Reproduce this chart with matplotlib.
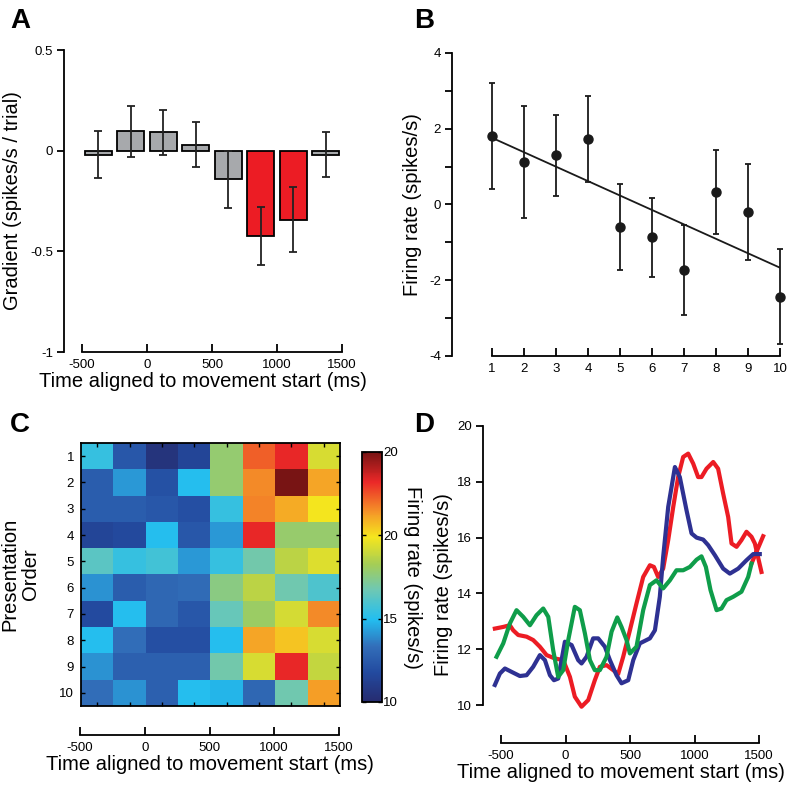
import numpy as np
import matplotlib
matplotlib.use("Agg")
import matplotlib.pyplot as plt
from matplotlib.colors import LinearSegmentedColormap

plt.rcParams['font.family'] = ['Liberation Sans', 'DejaVu Sans']
plt.rcParams['axes.unicode_minus'] = False

# ---- panel A: gradient per time bin
bin_centres = [-375, -125, 125, 375, 625, 875, 1125, 1375]
gradient = [-0.02, 0.096, 0.091, 0.03, -0.143, -0.426, -0.343, -0.02]
gradient_err = [0.118, 0.125, 0.113, 0.112, 0.142, 0.144, 0.162, 0.113]
significant = [False, False, False, False, False, True, True, False]

# ---- panel B: firing rate vs presentation order
order = [1, 2, 3, 4, 5, 6, 7, 8, 9, 10]
rate_b = [1.81, 1.12, 1.30, 1.73, -0.60, -0.87, -1.73, 0.32, -0.19, -2.43]
rate_b_err = [1.40, 1.47, 1.07, 1.14, 1.14, 1.05, 1.18, 1.11, 1.27, 1.26]

# ---- panel C: firing rate heatmap (rows = presentation order, cols = time bins)
heat = np.array([
    [15.4, 12.4, 10.5, 11.5, 17.8, 22.3, 23.2, 19.3],
    [12.6, 14.2, 12.1, 15.0, 17.8, 21.6, 25.0, 21.1],
    [12.6, 12.6, 12.4, 12.0, 15.4, 21.7, 21.0, 19.9],
    [11.5, 11.7, 15.0, 12.4, 14.2, 23.2, 17.9, 17.9],
    [16.3, 15.4, 15.7, 14.2, 15.4, 16.9, 18.7, 19.4],
    [14.1, 12.6, 13.0, 13.2, 17.5, 18.7, 16.8, 16.0],
    [11.8, 15.0, 13.0, 12.4, 16.6, 18.0, 19.2, 21.6],
    [15.0, 13.3, 12.0, 12.0, 15.0, 21.1, 20.5, 19.3],
    [14.1, 12.7, 12.7, 12.7, 16.9, 19.3, 23.2, 18.9],
    [13.3, 14.1, 12.7, 15.0, 14.8, 13.0, 16.8, 21.2],
])
cbar_ticks = [10, 15, 20, 25]
cbar_labels = ['10', '15', '20', '20']

# ---- panel D: smoothed firing rate traces
t_blue = [-548, -509, -470, -419, -354, -302, -251, -199, -160, -121, -90, -57, -5, 47, 98, 124,
          163, 214, 253, 305, 344, 395, 434, 486, 525, 576, 654, 693, 731, 757, 796, 848, 886,
          938, 977, 1016, 1067, 1106, 1158, 1222, 1274, 1339, 1403, 1455, 1506]
v_blue = [10.72, 11.13, 11.31, 11.19, 11.04, 11.07, 11.37, 11.79, 11.61, 11.07, 10.89, 10.95,
          12.27, 12.15, 11.61, 11.49, 11.73, 12.39, 12.39, 12.09, 11.61, 11.07, 10.78, 10.89,
          11.61, 12.21, 12.39, 12.68, 13.88, 15.31, 17.10, 18.53, 18.17, 16.98, 16.15, 16.00,
          15.93, 15.73, 15.37, 14.89, 14.71, 14.89, 15.19, 15.41, 15.41]

t_red = [-548, -483, -432, -406, -367, -302, -251, -199, -147, -83, -18, 34, 72, 124, 176, 227,
         266, 318, 370, 408, 447, 499, 550, 602, 654, 685, 718, 757, 796, 835, 873, 912, 951,
         990, 1028, 1054, 1093, 1145, 1183, 1222, 1261, 1287, 1326, 1364, 1403, 1442, 1468,
         1519, np.nan, 1442, 1532]
v_red = [12.74, 12.80, 12.86, 12.68, 12.51, 12.45, 12.33, 12.09, 11.79, 11.67, 11.61, 11.01,
         10.30, 9.94, 10.18, 10.89, 11.37, 11.43, 11.25, 11.11, 11.73, 12.68, 13.64, 14.59,
         15.01, 14.95, 14.59, 14.89, 15.91, 17.10, 18.17, 18.89, 19.01, 18.65, 18.17, 18.17,
         18.47, 18.71, 18.47, 17.58, 16.74, 15.79, 15.67, 15.91, 16.21, 16.03, 15.79, 14.77,
         np.nan, 15.07, 16.05]

t_green = [-535, -483, -432, -380, -328, -276, -225, -173, -134, -96, -57, -18, 21, 72, 111, 150,
           189, 227, 266, 318, 357, 401, 434, 473, 499, 550, 602, 654, 705, 757, 809, 860, 912,
           964, 1016, 1054, 1088, 1124, 1171, 1209, 1248, 1300, 1364, 1416, 1442]
v_green = [11.73, 12.21, 12.92, 13.40, 13.16, 12.86, 13.22, 13.46, 13.16, 11.97, 11.01, 11.25,
           12.33, 13.52, 13.40, 12.57, 11.61, 11.25, 11.25, 11.73, 12.63, 13.14, 12.80, 12.33,
           11.85, 12.09, 13.40, 14.30, 14.47, 14.18, 14.47, 14.83, 14.83, 14.95, 15.21, 15.33,
           14.95, 14.12, 13.40, 13.46, 13.76, 13.88, 14.06, 14.59, 15.07]

time_ticks = [-500, 0, 500, 1000, 1500]
xlab = 'Time aligned to movement start (ms)'
tick_fs = 9.5
label_fs = 14.5

W, H = 807, 789
fig = plt.figure(figsize=(W / 100, H / 100), dpi=100)


def px_axes(x0, y0, x1, y1):
    # pixel box (top-left origin) -> figure axes
    return fig.add_axes([x0 / W, 1 - y1 / H, (x1 - x0) / W, (y1 - y0) / H])


def style(ax):
    for s in ['top', 'right']:
        ax.spines[s].set_visible(False)
    for s in ['left', 'bottom']:
        ax.spines[s].set_linewidth(1.3)
    ax.tick_params(axis='y', direction='out', length=5, width=1.3, labelsize=tick_fs, pad=3)
    ax.tick_params(axis='x', direction='in', length=6, width=1.3, labelsize=tick_fs, pad=5)


# ---------------- A
axA = px_axes(64, 50, 342, 352)
colors = ['#ec1c24' if s else '#a7a9ac' for s in significant]
axA.bar(bin_centres, gradient, width=205, color=colors, edgecolor='black', linewidth=1.3, zorder=2)
axA.errorbar(bin_centres, gradient, yerr=gradient_err, fmt='none', ecolor='#222222',
             elinewidth=1.3, capsize=3, capthick=1.3, zorder=3)
axA.set_xlim(-638, 1500)
axA.set_ylim(-1, 0.5)
style(axA)
axA.spines['bottom'].set_bounds(-500, 1500)
axA.set_xticks(time_ticks)
axA.set_yticks([-1, -0.5, 0, 0.5])
axA.set_yticklabels(['-1', '-0.5', '0', '0.5'])
axA.set_xlabel(xlab, fontsize=label_fs, labelpad=1)
axA.set_ylabel('Gradient (spikes/s / trial)', fontsize=label_fs, labelpad=6)

# ---------------- B
axB = px_axes(452, 53, 780, 356)
axB.errorbar(order, rate_b, yerr=rate_b_err, fmt='o', color='#1a1a1a', ms=6.5,
             elinewidth=1.3, capsize=2, capthick=1.3, zorder=3, clip_on=False)
slope, icpt = np.polyfit(order, rate_b, 1)
xs = np.array([order[0], order[-1]])
axB.plot(xs, slope * xs + icpt, color='#1a1a1a', lw=1.3)
axB.set_xlim(-0.25, 10)
axB.set_ylim(-4, 4)
style(axB)
axB.spines['bottom'].set_bounds(1, 10)
axB.set_xticks(order)
axB.set_yticks([-4, -2, 0, 2, 4])
axB.set_yticks([-3, -1, 1, 3], minor=True)
axB.tick_params(axis='y', which='minor', direction='out', length=5, width=1.3)
axB.set_ylabel('Firing rate (spikes/s)', fontsize=label_fs, labelpad=5)

# ---------------- C
cmap = LinearSegmentedColormap.from_list('muted_jet', [
    (0.0, '#262c70'), (0.12, '#234ba0'), (0.22, '#326eb9'), (0.33, '#23bef0'),
    (0.45, '#6ec8b4'), (0.55, '#a5cd55'), (0.66, '#f5e61e'), (0.76, '#f59628'),
    (0.88, '#eb2828'), (1.0, '#781414')])
axC = px_axes(81, 443, 340, 706)
im = axC.imshow(heat, cmap=cmap, vmin=10, vmax=25, aspect='auto',
                extent=[-500, 1500, 10.5, 0.5], interpolation='nearest')
axC.set_yticks(order)
axC.set_xticks(bin_centres)
axC.set_xticklabels([])
axC.tick_params(direction='in', length=3, width=1, left=True, right=True, top=True, bottom=True,
                labelsize=tick_fs, pad=5)
for s in axC.spines.values():
    s.set_linewidth(1.3)
axC.set_ylabel('Presentation\nOrder', fontsize=label_fs, labelpad=14, linespacing=1.1)

axC2 = px_axes(80, 730, 339, 735)
axC2.set_xlim(-500, 1500)
axC2.set_yticks([])
for s in ['top', 'right', 'left']:
    axC2.spines[s].set_visible(False)
axC2.spines['bottom'].set_linewidth(1.3)
axC2.patch.set_visible(False)
axC2.set_xticks(time_ticks)
axC2.tick_params(axis='x', direction='in', length=6, width=1.3, labelsize=tick_fs, pad=5)
axC2.set_xlabel(xlab, fontsize=label_fs, labelpad=1)

cax = px_axes(362, 452, 382, 702)
cb = fig.colorbar(im, cax=cax, ticks=cbar_ticks)
cb.ax.set_yticklabels(cbar_labels)
cb.ax.tick_params(direction='in', length=3, width=1, left=True, right=True, labelsize=tick_fs, pad=1)
cb.outline.set_linewidth(1.3)
cb.set_label('Firing rate (spikes/s)', fontsize=label_fs, rotation=270, labelpad=17)

# ---------------- D
axD = px_axes(483, 426, 759, 743)
axD.plot(t_red, v_red, color='#ec1c24', lw=3, clip_on=False, zorder=2)
axD.plot(t_blue, v_blue, color='#2e3192', lw=3, clip_on=False, zorder=3)
axD.plot(t_green, v_green, color='#0f9d4a', lw=3, clip_on=False, zorder=4)
axD.set_xlim(-640, 1500)
axD.set_ylim(8.64, 20)
style(axD)
axD.spines['left'].set_bounds(10, 20)
axD.spines['bottom'].set_bounds(-500, 1500)
axD.set_xticks(time_ticks)
axD.set_yticks([10, 12, 14, 16, 18, 20])
axD.set_xlabel(xlab, fontsize=label_fs, labelpad=1)
axD.set_ylabel('Firing rate (spikes/s)', fontsize=label_fs, labelpad=3)

# panel letters
for lab, x, y in [('A', 10, 28), ('B', 414, 28), ('C', 10, 432), ('D', 414, 432)]:
    fig.text(x / W, 1 - y / H, lab, fontsize=20, fontweight='bold')

fig.savefig('out.png', dpi=100)
